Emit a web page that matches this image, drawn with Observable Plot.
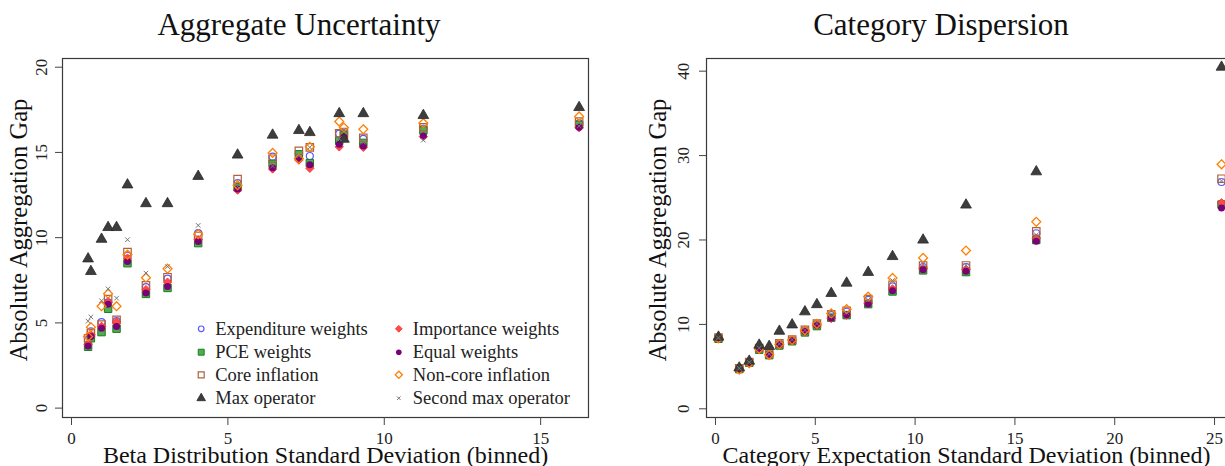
<!DOCTYPE html>
<html><head><meta charset="utf-8">
<script src="https://cdn.jsdelivr.net/npm/d3@7"></script>
<script src="https://cdn.jsdelivr.net/npm/@observablehq/plot@0.6"></script>
<style>
html,body{margin:0;padding:0;background:#fff;}
body{overflow:hidden;width:1225px;height:466px;position:relative;font-family:"Liberation Serif",serif;}
.title{position:absolute;top:9px;font-size:31px;line-height:31px;text-align:center;color:#111;white-space:nowrap;}
#left{position:absolute;left:0;top:0;width:610px}
#right{position:absolute;left:620px;top:0;width:630px}
svg{max-width:none !important;}
</style></head><body>
<div class="title" style="left:0;width:598px">Aggregate Uncertainty</div>
<div class="title" style="left:640px;width:602px">Category Dispersion</div>
<div id="left"></div><div id="right"></div>
<script>
// ---------- Data: Aggregate Uncertainty (left) ----------
const aggX =            [0.53, 0.62, 0.96, 1.17, 1.44, 1.79, 2.38, 3.07, 4.05, 5.31, 6.43, 7.27, 7.62, 8.56, 8.71, 9.33, 11.25, 16.23];
const aggExpenditure =  [4.0,  4.5,  5.05, 6.2,  5.1,  8.95, 7.1,  7.6,  10.27,13.2, 14.75,14.9, 14.79,16.1, 16.1, 15.8, 16.4,  16.7];
const aggPCE =          [3.6,  4.1,  4.46, 5.83, 4.66, 8.5,  6.7,  7.05, 9.68, 12.95,14.33,14.89,14.37,15.68,16.0, 15.56,16.29, 16.61];
const aggCore =         [4.1,  4.4,  4.9,  6.4,  5.18, 9.15, 7.2,  7.68, 10.1, 13.44,14.63,15.09,15.3, 16.12,16.2, 15.86,16.48, 16.81];
const aggMax =          [8.76, 8.02, 9.91, 10.6, 10.6, 13.1, 12.0, 12.0, 13.6, 14.85,16.02,16.29,16.17,17.28,15.78,17.28,17.17, 17.64];
const aggImportance =   [3.75, 4.3,  4.8,  6.22, 5.05, 8.8,  6.95, 7.39, 9.88, 12.79,14.03,14.55,14.07,15.33,15.85,15.3, 15.93, 16.45];
const aggEqual =        [3.65, 4.2,  4.69, 6.1,  4.79, 8.6,  6.75, 7.14, 9.78, 12.85,14.1, 14.65,14.27,15.48,15.9, 15.37,15.96, 16.48];
const aggNoncore =      [4.2,  4.75, 5.98, 6.71, 5.98, 9.0,  7.65, 8.18, 10.2, 13.08,14.97,14.63,15.33,16.81,16.46,16.36,16.72, 17.11];
const aggSecond =       [5.1,  5.35, 6.3,  7.0,  6.45, 9.88, 7.92, 8.3,  10.72,13.0, 14.2, 14.8, 15.3, 15.8, 16.3, 15.6, 15.72, 16.55];

// ---------- Data: Category Dispersion (right) ----------
const dispX =           [0.15, 1.19, 1.69, 2.19, 2.69, 3.2,  3.84, 4.48, 5.08, 5.8,  6.57, 7.65, 8.87, 10.4, 12.55, 16.07, 25.35];
const dispExpenditure = [8.4,  4.75, 5.5,  7.15, 6.45, 7.7,  8.15, 9.3,  10.05,11.1, 11.5, 12.9, 14.5, 16.8, 16.8,  20.8,  26.87];
const dispPCE =         [8.3,  4.7,  5.45, 7.0,  6.35, 7.5,  8.0,  9.05, 9.8,  10.8, 11.1, 12.4, 13.9, 16.4, 16.2,  20.0,  24.2];
const dispCore =        [8.45, 4.8,  5.55, 7.2,  6.5,  7.75, 8.2,  9.35, 10.1, 11.2, 11.6, 13.0, 14.7, 16.98,16.98, 21.03, 27.26];
const dispMax =         [8.5,  4.85, 5.65, 7.55, 7.4,  9.2,  9.95, 11.5, 12.35,13.68,14.9, 16.17,18.05,20.0, 24.15, 28.09, 40.48];
const dispImportance =  [8.35, 4.7,  5.45, 7.05, 6.4,  7.6,  8.05, 9.15, 9.9,  10.7, 11.1, 12.5, 14.2, 16.6, 16.5,  20.2,  24.4];
const dispEqual =       [8.35, 4.7,  5.45, 7.05, 6.4,  7.6,  8.05, 9.15, 9.9,  10.75,11.15,12.42,14.0, 16.46,16.3,  19.85, 23.8];
const dispNoncore =     [8.35, 4.65, 5.4,  7.1,  6.4,  7.65, 8.15, 9.3,  10.05,11.3, 11.8, 13.28,15.5, 17.88,18.75, 22.15, 28.97];
const dispSecond =      [8.4,  4.8,  5.5,  7.2,  6.5,  7.7,  8.2,  9.3,  10.1, 11.0, 11.4, 12.9, 15.2, 17.2, 17.0,  20.6,  27.0];

// ---------- Labels ----------
const seriesNames = ["Expenditure weights","PCE weights","Core inflation","Max operator",
                     "Importance weights","Equal weights","Non-core inflation","Second max operator"];
const aggTicksX = [0, 5, 10, 15];
const aggTicksY = [0, 5, 10, 15, 20];
const dispTicksX = [0, 5, 10, 15, 20, 25];
const dispTicksY = [0, 10, 20, 30, 40];
const yLabel = "Absolute Aggregation Gap";
const aggXLabel = "Beta Distribution Standard Deviation (binned)";
const dispXLabel = "Category Expectation Standard Deviation (binned)";

// ---------- Styles ----------
const STYLES = [
  {symbol:"circle",   r:3.5, fill:"none",    stroke:"#5a5aff", sw:1.2},
  {symbol:"square",   r:4.2, fill:"#4caf50", stroke:"#1f7a1f", sw:1},
  {symbol:"square",   r:4.2, fill:"none",    stroke:"#b0603c", sw:1.2},
  {symbol:"triangle", r:4.0, fill:"#3d3d3d", stroke:"#2a2a2a", sw:0.8},
  {symbol:"diamond2", r:3.8, fill:"#ff4a4a", stroke:"#ff2a2a", sw:0.8},
  {symbol:"circle",   r:3.5, fill:"#7a007a", stroke:"none",    sw:0},
  {symbol:"diamond2", r:4.0, fill:"none",    stroke:"#ff7f00", sw:1.3},
  {symbol:"times",    r:2.2, fill:"none",    stroke:"#777777", sw:1}
];
const drawOrder = [0, 1, 2, 4, 5, 6, 3, 7];
const FONT = "Liberation Serif";

function panel(opts) {
  const {xs, ys, xDomain, yDomain, xTicks, yTicks, xLabel, width, marginLeft, marginRight,
         xLabelDx, yLabelDx, yLabelDy, yTickPad, legend} = opts;
  const marks = [];
  for (const k of drawOrder) {
    const st = STYLES[k];
    const data = xs.map((x, i) => ({x, y: ys[k][i]}));
    marks.push(Plot.dot(data, {x: "x", y: "y", symbol: st.symbol, r: st.r,
      fill: st.fill, stroke: st.stroke, strokeWidth: st.sw}));
  }
  marks.push(Plot.frame({stroke: "#3a3a3a", strokeWidth: 1.2}));
  marks.push(Plot.axisX({ticks: xTicks, tickSize: 8, tickPadding: 6, fontSize: 17, label: null, fill: "#222", stroke: "#444"}));
  marks.push(Plot.axisY({ticks: yTicks, tickSize: 7, tickPadding: yTickPad, tickRotate: -90, fontSize: 17, label: null, fill: "#222", stroke: "#444"}));
  marks.push(Plot.text([xLabel], {frameAnchor: "bottom", dy: 37.5, dx: xLabelDx, fontSize: 24,
    textAnchor: "middle", lineAnchor: "middle", fill: "#111", text: d => d}));
  marks.push(Plot.text([yLabel], {frameAnchor: "left", rotate: -90, dx: yLabelDx, dy: yLabelDy, fontSize: 24.5,
    textAnchor: "middle", lineAnchor: "middle", fill: "#111", text: d => d}));
  if (legend) {
    const colX = [138.7, 336.3];
    const rowY = [-88.7, -65.3, -42.7, -19.3];
    seriesNames.forEach((name, i) => {
      const st = STYLES[i];
      const c = Math.floor(i / 4), rr = i % 4;
      marks.push(Plot.dot([name], {frameAnchor: "bottom-left", dx: colX[c], dy: rowY[rr],
        symbol: st.symbol, r: st.r * 0.8, fill: st.fill, stroke: st.stroke, strokeWidth: st.sw}));
      marks.push(Plot.text([name], {frameAnchor: "bottom-left", dx: colX[c] + 14, dy: rowY[rr],
        textAnchor: "start", lineAnchor: "middle", fontSize: 18.5, fill: "#222", text: d => d}));
    });
  }
  return Plot.plot({
    width, height: 466,
    marginLeft, marginRight, marginTop: 58, marginBottom: 49,
    x: {domain: xDomain, nice: false},
    y: {domain: yDomain, nice: false},
    style: {fontFamily: FONT, background: "transparent", overflow: "visible", maxWidth: "none"},
    marks
  });
}

document.getElementById("left").append(panel({
  xs: aggX,
  ys: [aggExpenditure, aggPCE, aggCore, aggMax, aggImportance, aggEqual, aggNoncore, aggSecond],
  xDomain: [-0.288, 16.53], yDomain: [-0.55, 20.51],
  xTicks: aggTicksX, yTicks: aggTicksY, xLabel: aggXLabel,
  width: 610, marginLeft: 62, marginRight: 22,
  xLabelDx: 0, yLabelDx: -43.7, yLabelDy: -8, yTickPad: 8.5, legend: true
}));
document.getElementById("right").append(panel({
  xs: dispX,
  ys: [dispExpenditure, dispPCE, dispCore, dispMax, dispImportance, dispEqual, dispNoncore, dispSecond],
  xDomain: [-0.45, 25.9], yDomain: [-1.03, 41.5],
  xTicks: dispTicksX, yTicks: dispTicksY, xLabel: dispXLabel,
  width: 630, marginLeft: 86, marginRight: 18,
  xLabelDx: -3, yLabelDx: -48, yLabelDy: -8, yTickPad: 10.5, legend: false
}));
</script></body></html>
